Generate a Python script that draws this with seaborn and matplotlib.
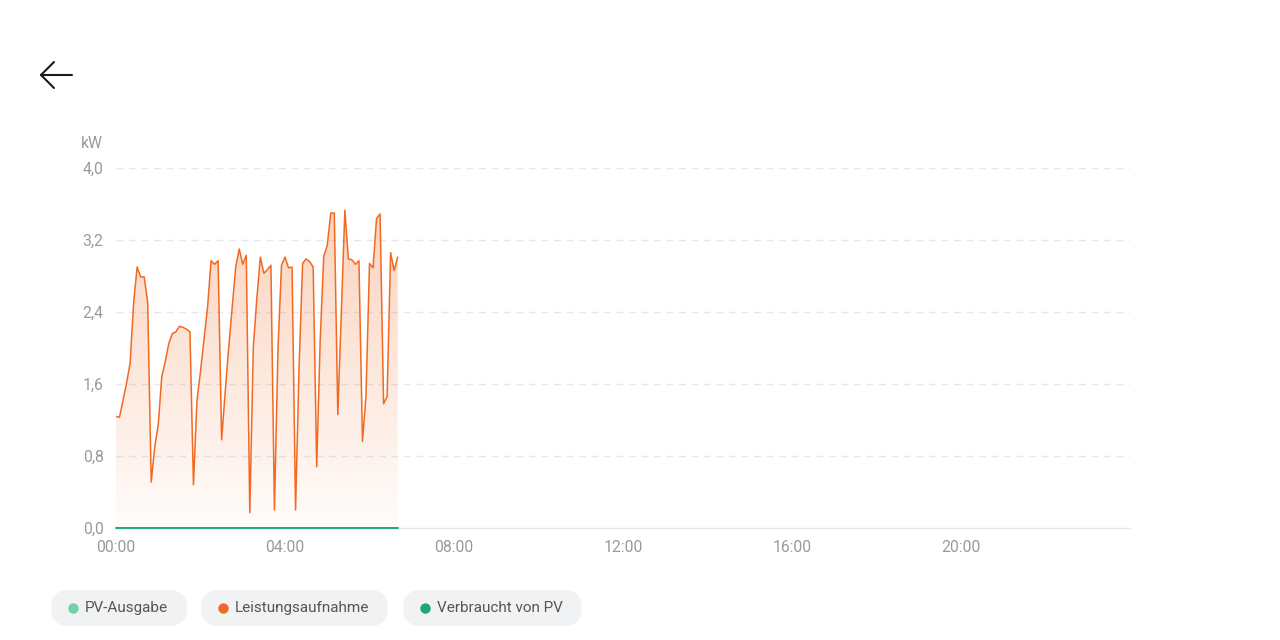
import numpy as np
import pandas as pd
import matplotlib
matplotlib.use("Agg")
import matplotlib.pyplot as plt
import seaborn as sns
from matplotlib.patches import FancyBboxPatch
from matplotlib.lines import Line2D

# 5-minute readings, 00:00 .. 06:40 (kW)
leistung = [1.24, 1.23, 1.42, 1.61, 1.83, 2.50, 2.90, 2.79, 2.79, 2.51,
            0.51, 0.90, 1.15, 1.68, 1.85, 2.05, 2.16, 2.18, 2.24, 2.23,
            2.21, 2.18, 0.48, 1.42, 1.74, 2.10, 2.45, 2.97, 2.93, 2.97,
            0.98, 1.50, 2.00, 2.45, 2.90, 3.10, 2.93, 3.03, 0.17, 2.01,
            2.55, 3.01, 2.83, 2.87, 2.92, 0.20, 1.98, 2.92, 3.01, 2.89,
            2.90, 0.20, 1.79, 2.94, 2.99, 2.96, 2.90, 0.68, 2.09, 3.02,
            3.14, 3.50, 3.50, 1.26, 2.40, 3.53, 2.99, 2.98, 2.93, 2.97,
            0.96, 1.46, 2.94, 2.89, 3.44, 3.49, 1.38, 1.46, 3.06, 2.86,
            3.01]
verbraucht_pv = [0.0] * len(leistung)
stunden = np.arange(len(leistung)) * 5 / 60

x_ticks = [0, 4, 8, 12, 16, 20]
x_labels = ["00:00", "04:00", "08:00", "12:00", "16:00", "20:00"]
y_ticks = [0.0, 0.8, 1.6, 2.4, 3.2, 4.0]
y_labels = ["0,0", "0,8", "1,6", "2,4", "3,2", "4,0"]
legend_labels = ["PV-Ausgabe", "Leistungsaufnahme", "Verbraucht von PV"]

df = pd.DataFrame({"t": stunden, "kw": leistung, "pv": verbraucht_pv})

ORANGE = "#f26a21"
GREEN = "#1fa874"
LIGHTGREEN = "#6fd3a8"
GRAY = "#9a9a9a"

sns.set_style("white")
plt.rcParams["font.family"] = ["Roboto", "DejaVu Sans"]

fig = plt.figure(figsize=(12.8, 6.4), dpi=100)
ax = fig.add_axes([116 / 1280, 1 - 528 / 640, (1130 - 116) / 1280, 360 / 640])

# gradient area under the orange curve
poly = ax.fill_between(df["t"], 0, df["kw"], color="none", lw=0)
grad = np.zeros((256, 1, 4))
rgb = matplotlib.colors.to_rgb(ORANGE)
grad[:, 0, :3] = rgb
grad[:, 0, 3] = np.linspace(0.30, 0.02, 256)
im = ax.imshow(grad, extent=[0, df["t"].max(), 0, 3.6], aspect="auto",
               origin="upper", zorder=1)
im.set_clip_path(poly.get_paths()[0], transform=ax.transData)

sns.lineplot(data=df, x="t", y="kw", ax=ax, color=ORANGE, lw=1.1, zorder=3)
sns.lineplot(data=df, x="t", y="pv", ax=ax, color=GREEN, lw=1.4, zorder=5,
             clip_on=False)

ax.set_xlim(0, 24)
ax.set_ylim(0, 4.0)
ax.set_xticks(x_ticks)
ax.set_xticklabels(x_labels)
ax.set_yticks(y_ticks)
ax.set_yticklabels(y_labels)
ax.tick_params(axis="both", length=0, labelsize=11.3, colors=GRAY)
ax.tick_params(axis="x", pad=9)
ax.tick_params(axis="y", pad=9)
ax.set_xlabel("")
ax.set_ylabel("")
for s in ["top", "right", "left"]:
    ax.spines[s].set_visible(False)
ax.spines["bottom"].set_color("#e3e6ee")
ax.spines["bottom"].set_linewidth(1.0)
ax.spines["bottom"].set_zorder(0.5)
for yv in y_ticks[1:]:
    ax.axhline(yv, color="#e4e7ef", lw=1.0, ls=(0, (5, 4)), zorder=0)

fig.text(92 / 1280, 1 - 144 / 640, "kW", color=GRAY, fontsize=11.3,
         ha="center", va="center")

# back arrow
ac = "#1a1a1a"
fig.add_artist(Line2D([41 / 1280, 72 / 1280], [1 - 75 / 640, 1 - 75 / 640], color=ac, lw=1.5))
fig.add_artist(Line2D([41 / 1280, 54 / 1280], [1 - 75 / 640, 1 - 62 / 640], color=ac, lw=1.5))
fig.add_artist(Line2D([41 / 1280, 54 / 1280], [1 - 75 / 640, 1 - 88 / 640], color=ac, lw=1.5))

# pill legend
pills = [(51, 187, LIGHTGREEN), (201, 388, ORANGE), (403, 582, GREEN)]
for (x0, x1, c), lab in zip(pills, legend_labels):
    box = FancyBboxPatch((x0 + 18, 608), x1 - x0 - 36, 0,
                         boxstyle="round,pad=18,rounding_size=18",
                         transform=None, fc="#f1f2f4", ec="none")
    box.set_bounds(x0 + 18, 640 - 608, x1 - x0 - 36, 0)
    fig.patches.append(box)
    fig.add_artist(Line2D([(x0 + 22) / 1280], [1 - 608 / 640], marker="o",
                          ms=7.5, color=c, mec="none", ls="none"))
    fig.text((x0 + 34) / 1280, 1 - 608 / 640, lab, color="#555555",
             fontsize=11, ha="left", va="center")

fig.savefig("out.png", dpi=100, facecolor="white")
